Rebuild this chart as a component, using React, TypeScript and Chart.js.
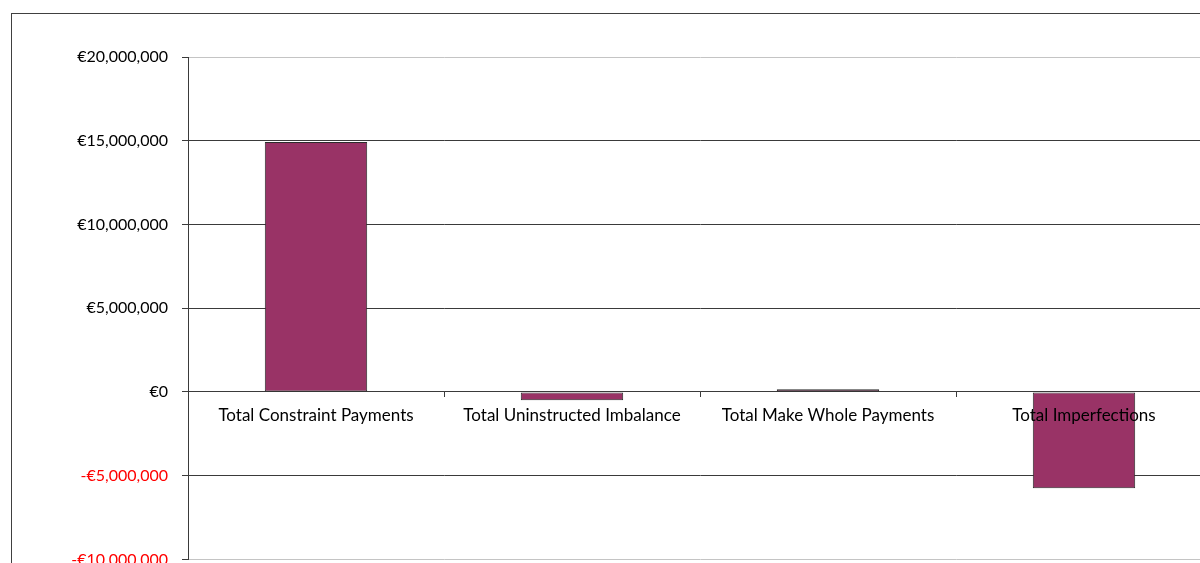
import React, { useEffect, useRef } from "react";
import { Chart, registerables } from "chart.js";

Chart.register(...registerables);

const categories = [
  "Total Constraint Payments",
  "Total Uninstructed Imbalance",
  "Total Make Whole Payments",
  "Total Imperfections",
];
const values = [14930000, -500000, 160000, -5750000];
const yMin = -10000000;
const yMax = 20000000;
const yStep = 5000000;

const FONT = "Lato";
const DARK = "#3a3a3a";
const LIGHT = "#c4c4c4";

function fmtEuro(v: number): string {
  const abs = Math.abs(v).toLocaleString("en-US");
  return (v < 0 ? "-€" : "€") + abs;
}

export default function App() {
  const ref = useRef<HTMLCanvasElement | null>(null);

  useEffect(() => {
    document.body.style.margin = "0";
    document.body.style.overflow = "hidden";
    const chart = new Chart(ref.current as HTMLCanvasElement, {
      type: "bar",
      data: {
        labels: categories,
        datasets: [
          {
            data: values,
            backgroundColor: "#993366",
            borderColor: "#2b2b2b",
            borderWidth: 1,
            borderSkipped: false,
            barPercentage: 0.4,
            categoryPercentage: 1,
          },
        ],
      },
      options: {
        animation: false,
        responsive: true,
        maintainAspectRatio: false,
        layout: { padding: { top: 43, left: 0, right: 0, bottom: 10 } },
        plugins: { legend: { display: false }, tooltip: { enabled: false } },
        scales: {
          x: {
            position: { y: 0 } as any,
            offset: true,
            afterFit: (s: any) => {
              s.height = 0;
            },
            grid: {
              offset: true,
              drawOnChartArea: false,
              drawTicks: true,
              tickLength: 5,
              color: DARK,
              tickColor: DARK,
            },
            border: { display: true, color: DARK, width: 1 },
            ticks: {
              z: 1,
              padding: 8,
              maxRotation: 0,
              autoSkip: false,
              color: "#000",
              font: { family: FONT, size: 17 },
            },
          },
          y: {
            position: "left",
            min: yMin,
            max: yMax,
            afterFit: (s: any) => {
              s.width = 176;
            },
            grid: {
              color: (ctx: any) =>
                ctx.tick && (ctx.tick.value === yMax || ctx.tick.value === yMin) ? LIGHT : DARK,
              tickColor: DARK,
              tickLength: 6,
              drawTicks: true,
            },
            border: { display: true, color: DARK, width: 1 },
            ticks: {
              stepSize: yStep,
              padding: 14,
              color: (ctx: any) => (ctx.tick && ctx.tick.value < 0 ? "#ff0000" : "#000"),
              font: { family: FONT, size: 16 },
              callback: (v: any) => fmtEuro(Number(v)),
            },
          },
        },
      },
    });
    return () => chart.destroy();
  }, []);

  return (
    <div
      style={{
        position: "fixed",
        left: 0,
        top: 0,
        width: 1200,
        height: 563,
        overflow: "hidden",
        background: "#fff",
      }}
    >
      <div
        style={{
          position: "absolute",
          left: 11,
          top: 13,
          width: 1300,
          height: 700,
          border: "1px solid #404040",
          boxSizing: "border-box",
        }}
      />
      <div style={{ position: "absolute", left: 12, top: 14, width: 1200, height: 569 }}>
        <canvas ref={ref} />
      </div>
    </div>
  );
}
